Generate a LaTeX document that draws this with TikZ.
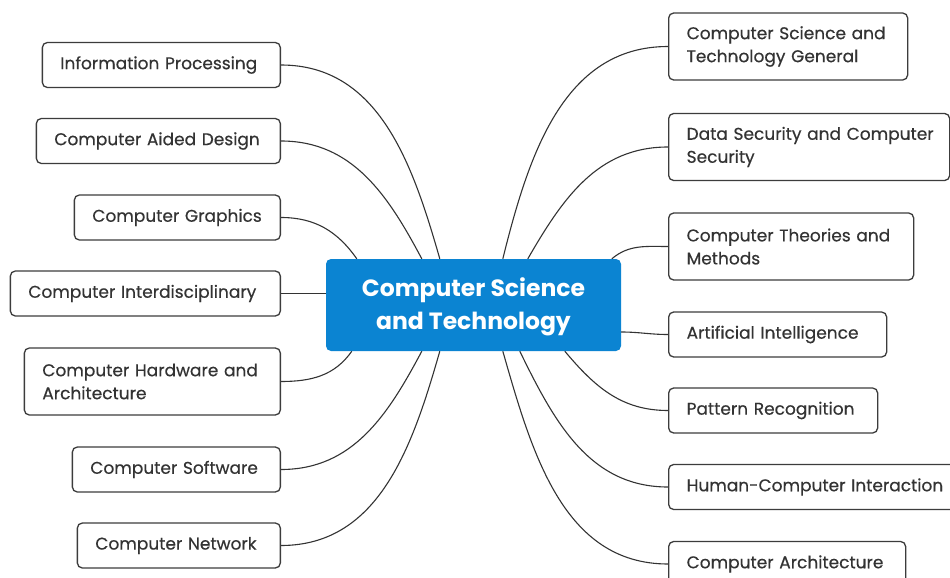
\documentclass[tikz,border=0pt]{standalone}
\usepackage{fontspec}
\setmainfont{Poppins}
\newfontfamily\leaffont{Poppins}[FakeBold=0.4]
\usetikzlibrary{backgrounds}
\definecolor{hubblue}{RGB}{11,132,210}
\definecolor{boxline}{RGB}{60,60,60}
\definecolor{txt}{RGB}{51,51,51}
\tikzset{
  leaf/.style={draw=boxline, line width=1.3pt, rounded corners=5pt, fill=white,
    text=txt, font=\leaffont\fontsize{17}{23}\selectfont, align=left,
    inner xsep=0pt, inner ysep=0pt, minimum height=#1},
  leaf/.default=45pt,
  hub/.style={fill=hubblue, rounded corners=5pt, text=white,
    font=\fontsize{23.5}{33}\selectfont\bfseries, align=center,
    minimum width=295pt, minimum height=92pt, inner sep=0pt},
  link/.style={draw=txt, line width=1.1pt},
}
\begin{document}
\begin{tikzpicture}[x=1pt,y=1pt]
\clip (0,0) rectangle (950,-578);
\node[hub] (c) at (473.5,-305) {\rule{0pt}{22pt}Computer Science\\and Technology};
% left
\node[leaf, minimum width=238pt, text width=202pt, anchor=east] (l1) at (281,-65) {Information Processing};
\node[leaf, minimum width=244pt, text width=208pt, anchor=east] (l2) at (281,-141) {Computer Aided Design};
\node[leaf, minimum width=206pt, text width=170pt, anchor=east] (l3) at (281,-217.5) {Computer Graphics};
\node[leaf, minimum width=270pt, text width=234pt, anchor=east] (l4) at (281,-293.5) {Computer Interdisciplinary};
\node[leaf=67pt, minimum width=256pt, text width=220pt, anchor=east] (l5) at (281,-381.5) {Computer Hardware and\\Architecture};
\node[leaf, minimum width=208pt, text width=172pt, anchor=east] (l6) at (281,-469.5) {Computer Software};
\node[leaf, minimum width=203pt, text width=167pt, anchor=east] (l7) at (281,-545.5) {Computer Network};
% right
\node[leaf=67pt, minimum width=239pt, text width=203pt, anchor=west] (r1) at (668,-46.5) {\mbox{Computer Science and}\\Technology General};
\node[leaf=67pt, minimum width=281pt, text width=245pt, anchor=west] (r2) at (668,-147) {\mbox{Data Security and Computer}\\Security};
\node[leaf=67pt, minimum width=245pt, text width=209pt, anchor=west] (r3) at (668,-246.5) {\mbox{Computer Theories and}\\Methods};
\node[leaf, minimum width=218pt, text width=182pt, anchor=west] (r4) at (668,-334.5) {\mbox{Artificial Intelligence}};
\node[leaf, minimum width=209pt, text width=173pt, anchor=west] (r5) at (668,-410.5) {\mbox{Pattern Recognition}};
\node[leaf, minimum width=300pt, text width=264pt, anchor=west] (r6) at (668,-487) {\mbox{Human-Computer Interaction}};
\node[leaf, minimum width=237pt, text width=201pt, anchor=west] (r7) at (668,-564) {\mbox{Computer Architecture}};
\begin{scope}[on background layer]
\fill[white] (0,0) rectangle (950,-578);
\draw[link] (l1.east) to[out=0,in=106] ([xshift=114pt]c.north west);
\draw[link] (l2.east) to[out=0,in=118] ([xshift=96pt]c.north west);
\draw[link] (l3.east) to[out=0,in=125] ([xshift=31pt]c.north west);
\draw[link] (l4.east) -- (l4.east -| c.west);
\draw[link] (l5.east) to[out=0,in=-125] ([xshift=26pt]c.south west);
\draw[link] (l6.east) to[out=0,in=-118] ([xshift=96pt]c.south west);
\draw[link] (l7.east) to[out=0,in=-106] ([xshift=114pt]c.south west);
\draw[link] (r1.west) to[out=180,in=76] ([xshift=177pt]c.north west);
\draw[link] (r2.west) to[out=180,in=60] ([xshift=202pt]c.north west);
\draw[link] (r3.west) to[out=180,in=40] ([xshift=286pt]c.north west);
\draw[link] (r4.west) to[out=180,in=0] ([yshift=-27pt]c.east);
\draw[link] (r5.west) to[out=180,in=-50] ([xshift=239pt]c.south west);
\draw[link] (r6.west) to[out=180,in=-64] ([xshift=194pt]c.south west);
\draw[link] (r7.west) to[out=180,in=-74] ([xshift=177pt]c.south west);
\end{scope}
\end{tikzpicture}
\end{document}
